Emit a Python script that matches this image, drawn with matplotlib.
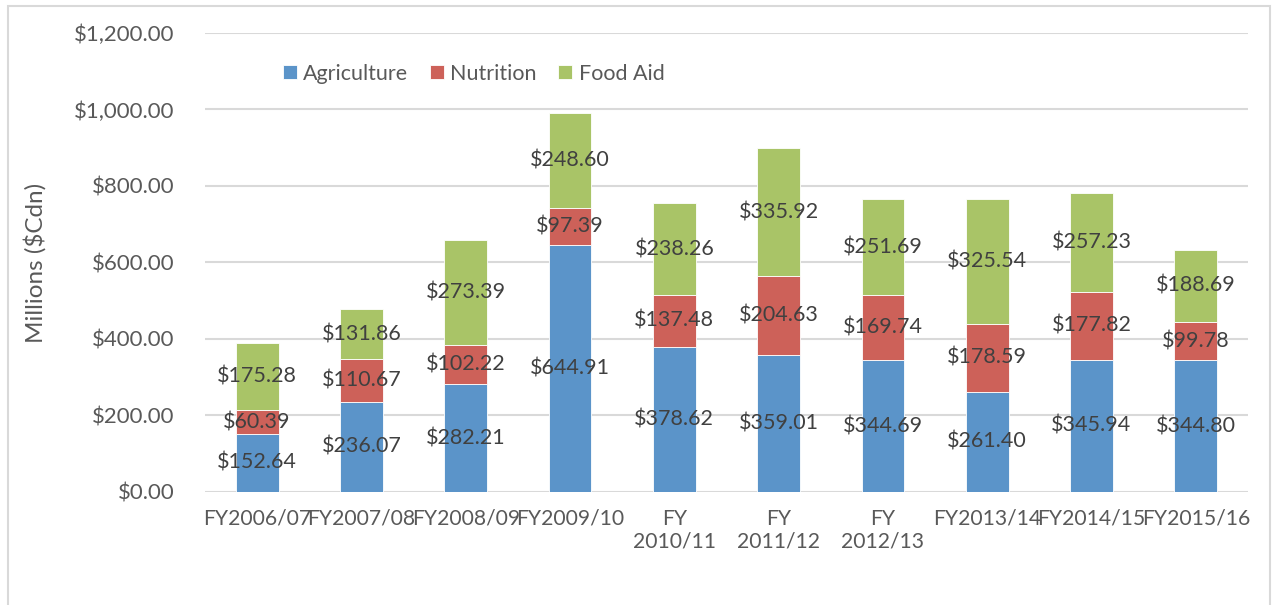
import numpy as np
import matplotlib.pyplot as plt
from matplotlib.patches import Rectangle

plt.rcParams['font.family'] = ['Lato', 'DejaVu Sans']

# Data
years = ["FY2006/07", "FY2007/08", "FY2008/09", "FY2009/10", "FY\n2010/11",
         "FY\n2011/12", "FY\n2012/13", "FY2013/14", "FY2014/15", "FY2015/16"]
agriculture = [152.64, 236.07, 282.21, 644.91, 378.62, 359.01, 344.69, 261.40, 345.94, 344.80]
nutrition = [60.39, 110.67, 102.22, 97.39, 137.48, 204.63, 169.74, 178.59, 177.82, 99.78]
food_aid = [175.28, 131.86, 273.39, 248.60, 238.26, 335.92, 251.69, 325.54, 257.23, 188.69]

series = [("Agriculture", agriculture, "#5b94c9"),
          ("Nutrition", nutrition, "#cd6159"),
          ("Food Aid", food_aid, "#a9c467")]

text_color = "#595959"

fig = plt.figure(figsize=(12.78, 6.05), dpi=100)
ax = fig.add_axes([0.1604, 0.1868, 0.9765 - 0.1604, 0.9455 - 0.1868])

# outer chart border
fig.patches.append(Rectangle((8 / 1278, -0.01), 1262 / 1278, 1 - 6 / 605 + 0.01,
                             transform=fig.transFigure,
                             fill=False, edgecolor="#d9d9d9", linewidth=1.5))

x = np.arange(len(years))
bottom = np.zeros(len(years))
for name, vals, color in series:
    vals = np.array(vals)
    ax.bar(x, vals, 0.41, bottom=bottom, color=color, edgecolor="white", linewidth=0.6,
           label=name, zorder=3)
    for xi, b, v in zip(x, bottom, vals):
        ax.text(xi, b + v / 2, f"${v:,.2f}", ha="center", va="center",
                fontsize=15.5, color="#404040", zorder=4)
    bottom += vals

ax.set_xlim(-0.5, len(years) - 0.5)
ax.set_ylim(0, 1200)
ax.set_yticks(np.arange(0, 1201, 200))
ax.set_yticklabels([f"${v:,.2f}" for v in np.arange(0, 1201, 200)])
ax.set_xticks(x)
ax.set_xticklabels(years)
ax.tick_params(axis="both", length=0, labelcolor=text_color)
ax.tick_params(axis="y", pad=22, labelsize=16)
ax.tick_params(axis="x", pad=12, labelsize=15.2)
ax.set_ylabel("Millions ($Cdn)", fontsize=17.5, color=text_color, labelpad=20)

ax.grid(axis="y", color="#d9d9d9", linewidth=1.5, zorder=0)
for s in ax.spines.values():
    s.set_visible(False)

ax.legend(loc="upper left", bbox_to_anchor=(0.056, 0.975), ncol=3, frameon=False,
          fontsize=15.5, labelcolor=text_color, handlelength=0.65, handleheight=0.65,
          handletextpad=0.3, columnspacing=1.0)

plt.savefig("out.png", dpi=100)
